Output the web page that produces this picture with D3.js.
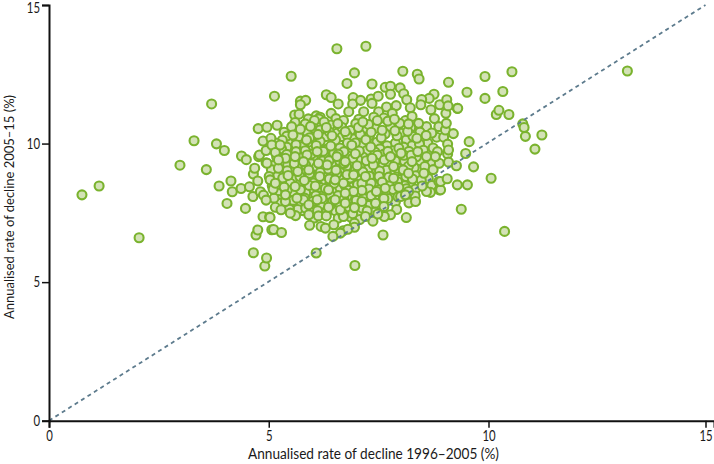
<!DOCTYPE html>
<html>
<head>
<meta charset="utf-8">
<script src="https://cdn.jsdelivr.net/npm/d3@7"></script>
<style>
  html, body { margin: 0; padding: 0; background: #fff; }
  svg { display: block; }
  text { font-family: "Lato", sans-serif; fill: #1a1a1a; }
</style>
</head>
<body>
<div id="chart"></div>
<script>
// [1996-2005 rate, 2005-15 rate]
const farLeft = [[0.75,8.15],[1.14,8.47],[2.05,6.60],[2.98,9.22],[3.30,10.10],[3.58,9.06],[3.70,11.43],[3.81,9.99],[3.87,8.47],[3.99,9.75],[4.05,7.84],[4.14,8.65],[4.17,8.26],[4.37,8.38],[4.38,9.55],[4.47,7.66],[4.49,9.42],[4.56,8.44],[4.64,8.09],[4.65,8.90],[4.65,6.06],[4.68,9.11],[4.71,6.70],[4.75,6.88],[4.75,8.65],[4.76,10.54],[4.77,9.53],[4.79,9.59],[4.81,8.26],[4.87,10.09],[4.87,7.36],[4.88,8.14],[4.91,5.58],[4.94,7.96],[4.94,9.75],[4.94,9.31],[4.95,5.87],[4.96,10.59],[4.96,9.29],[5.01,8.81],[5.02,7.35],[5.03,7.33],[5.03,8.69],[5.05,10.19],[5.07,6.89],[5.07,9.95],[5.10,8.35],[5.11,6.90],[5.13,11.71],[5.15,8.57],[5.15,7.70],[5.15,9.68],[5.19,10.66],[5.22,9.11],[5.22,9.41],[5.26,9.95],[5.28,7.61],[5.29,6.79]];

const farRight = [[9.02,10.49],[9.03,11.09],[9.04,10.73],[9.05,11.58],[9.06,8.73],[9.07,9.98],[9.07,9.62],[9.08,11.36],[9.09,12.21],[9.09,9.77],[9.09,9.33],[9.20,10.36],[9.27,9.20],[9.29,8.51],[9.29,11.27],[9.30,11.27],[9.38,7.63],[9.48,9.64],[9.51,11.85],[9.52,8.51],[9.56,10.07],[9.66,9.16],[9.92,12.42],[9.92,11.63],[10.06,8.75],[10.18,11.05],[10.24,11.20],[10.33,11.88],[10.37,6.83],[10.47,11.05],[10.54,12.59],[10.79,10.71],[10.82,10.58],[10.85,10.26],[11.07,9.80],[11.23,10.31],[13.20,12.62]];

const upperCloud = [[5.51,12.43],[6.55,13.42],[7.21,13.51],[6.95,12.55],[6.78,12.17],[7.35,12.15],[8.05,12.61],[8.38,12.50],[8.42,12.33],[7.65,12.03],[7.77,12.07],[7.99,12.01],[7.77,11.78],[8.07,11.80],[8.14,11.58],[8.76,11.78],[8.65,11.63],[8.48,11.59],[8.46,11.40],[6.31,11.76],[6.42,11.66],[6.58,11.43],[5.72,11.53],[5.84,11.56],[5.72,11.40],[5.59,11.03],[5.69,11.06],[5.60,10.76],[5.90,10.89],[6.08,11.00],[6.17,10.95],[6.14,10.89],[6.42,11.09],[6.53,10.90],[6.92,11.66],[6.91,11.43],[7.09,11.56],[7.33,11.61],[7.49,11.71],[7.35,11.45],[7.68,11.32],[7.90,11.37],[8.22,11.29],[8.89,11.40],[8.69,11.22],[8.77,10.90],[8.87,10.61],[8.59,10.61],[8.41,10.73],[8.11,10.83],[7.81,11.09],[7.50,11.15],[7.39,10.95],[7.62,10.92],[7.05,10.88],[6.82,11.15],[6.70,10.83],[7.16,11.15],[7.98,10.73],[8.26,10.98],[6.04,10.83],[6.02,10.55],[5.87,10.43],[6.29,10.25],[6.17,10.49],[6.40,10.67],[6.55,10.37],[5.35,10.41],[5.68,10.25],[6.86,10.47],[7.18,10.47],[7.43,10.55],[7.77,10.61],[8.01,10.37],[8.49,10.10],[8.82,10.23],[8.62,10.01],[8.13,10.13],[7.65,10.35],[7.31,10.07],[6.93,10.17],[6.67,10.25],[7.11,9.93],[7.46,10.05],[7.88,10.01],[8.26,9.92],[5.98,10.01],[5.45,10.01],[5.76,9.89],[6.10,9.83],[8.98,10.23]];

const lowerCloud = [[6.96,5.60],[7.60,6.70],[8.13,7.33],[8.34,7.91],[7.77,7.43],[7.63,7.37],[7.37,7.20],[6.95,7.13],[6.95,6.98],[6.69,6.85],[6.80,6.91],[6.63,6.77],[7.24,7.57],[7.20,7.37],[7.48,7.46],[6.70,7.37],[6.63,7.61],[6.95,7.69],[6.74,7.85],[7.43,7.85],[7.62,7.73],[8.00,8.09],[8.18,8.27],[7.84,8.75],[8.88,8.33],[8.68,8.24],[8.59,8.27],[8.49,8.47],[8.87,8.63],[8.88,9.29],[8.79,9.53],[8.53,8.93],[8.26,9.35],[8.01,9.65],[8.39,9.71],[8.59,9.53],[8.06,9.05],[8.18,8.93],[7.84,9.17],[7.38,9.23],[7.77,9.53],[6.97,9.63],[7.35,9.47],[6.74,9.35],[7.01,9.20],[7.20,8.81],[6.93,8.87],[6.70,8.57],[7.12,8.31],[7.65,8.39],[7.45,8.27],[7.96,8.42],[6.93,8.27],[6.74,8.21],[7.12,7.91],[8.11,8.15],[8.91,8.33],[8.91,8.63],[6.08,6.05],[5.93,7.05],[6.19,7.01],[6.29,6.95],[6.46,6.65],[5.47,7.63],[5.61,7.40],[5.49,7.49],[5.91,7.43],[6.13,7.39],[6.31,7.39],[6.48,7.07],[5.38,7.91],[5.35,8.43],[5.60,8.45],[5.44,8.85],[5.66,8.99],[5.91,9.05],[6.16,8.81],[5.81,8.67],[6.06,8.47],[6.33,9.23],[6.51,8.69],[6.36,8.33],[6.10,7.97],[5.79,7.97],[5.64,8.03],[5.38,8.15],[6.36,7.70],[5.91,7.79],[6.51,7.97],[5.60,9.53],[5.38,9.47],[5.87,9.59],[6.10,9.71],[6.55,9.53],[6.13,9.29],[5.79,9.35]];

const coreCloud = [[5.52,10.61],[5.83,10.71],[6.26,10.78],[6.66,10.59],[6.98,10.72],[7.27,10.69],[7.71,10.81],[8.23,10.58],[8.44,10.41],[8.71,10.38],[5.41,10.27],[5.93,10.21],[6.38,10.42],[6.78,10.31],[7.08,10.33],[7.29,10.29],[7.56,10.21],[7.92,10.28],[8.28,10.26],[8.58,10.29],[5.31,10.12],[5.62,9.96],[6.17,10.08],[6.46,10.04],[6.79,10.02],[7.21,10.14],[7.69,9.92],[8.07,9.87],[8.43,9.98],[8.74,9.84],[5.47,9.73],[5.74,9.69],[5.99,9.76],[6.33,9.81],[6.62,9.84],[6.88,9.79],[7.24,9.76],[7.53,9.81],[7.84,9.74],[8.19,9.72],[8.52,9.76],[8.84,9.71],[5.26,9.62],[5.52,9.44],[6.01,9.48],[6.27,9.57],[6.43,9.47],[6.79,9.56],[7.14,9.52],[7.54,9.43],[7.98,9.44],[8.15,9.51],[8.44,9.38],[8.71,9.28],[5.12,9.22],[5.43,9.24],[5.72,9.18],[5.96,9.27],[6.48,9.24],[6.61,9.13],[6.87,9.31],[7.18,9.28],[7.56,9.18],[7.73,9.31],[8.02,9.27],[8.31,9.13],[8.55,9.17],[8.74,9.06],[5.31,8.98],[5.54,9.06],[5.83,8.96],[6.07,9.04],[6.26,8.98],[6.43,8.88],[6.72,8.99],[7.02,8.94],[7.34,8.97],[7.61,8.92],[7.98,8.91],[8.34,8.84],[8.63,8.74],[5.19,8.81],[5.62,8.74],[5.96,8.81],[6.28,8.67],[6.62,8.76],[6.88,8.61],[7.08,8.68],[7.41,8.72],[7.63,8.66],[8.02,8.71],[8.23,8.59],[8.47,8.68],[8.71,8.49],[5.28,8.61],[5.49,8.57],[5.82,8.41],[6.21,8.57],[6.47,8.44],[6.89,8.43],[7.23,8.54],[7.52,8.51],[7.78,8.59],[8.09,8.48],[8.34,8.36],[5.19,8.22],[5.58,8.22],[5.97,8.28],[6.21,8.19],[6.53,8.27],[7.04,8.09],[7.28,8.21],[7.54,8.11],[7.81,8.18],[8.33,8.11],[5.23,7.98],[5.71,7.84],[5.96,8.06],[6.26,7.92],[6.63,8.03],[6.87,8.03],[7.28,7.94],[7.56,7.92],[7.88,7.88],[8.19,7.86],[5.53,7.76],[5.77,7.58],[6.04,7.68],[6.23,7.58],[6.51,7.58],[6.83,7.61],[7.06,7.53],[7.36,7.64],[7.91,7.62],[6.03,7.31],[6.58,7.31],[6.87,7.34],[7.07,7.26],[5.86,10.13],[6.52,10.13],[6.97,10.02],[7.42,9.69],[7.62,9.62],[7.03,9.42],[6.48,9.66],[5.97,9.62],[6.22,9.37],[6.61,9.38],[6.97,9.07],[7.27,9.11],[7.46,9.05],[7.68,9.04],[7.87,8.98],[8.09,9.36],[8.36,9.52],[6.77,9.18],[6.35,9.08],[6.09,9.16],[5.84,9.22],[6.55,8.92],[6.85,8.76],[7.19,8.43],[7.33,8.38],[7.66,8.24],[6.62,8.41],[6.38,8.51],[6.08,8.67],[5.72,8.59],[5.84,8.21],[6.07,8.12],[6.78,8.09],[7.02,8.52],[6.41,8.11],[7.16,8.02],[7.41,8.07],[7.71,8.02],[6.42,7.81],[6.78,7.71],[7.02,7.82],[7.27,7.77],[7.52,7.71],[6.17,7.79],[5.97,7.51]];

// second pass over the dense middle of the cloud
const denseMiddle = [[6.12,10.33],[6.44,10.28],[6.74,10.43],[7.04,10.58],[7.33,10.41],[7.58,10.48],[7.87,10.46],[8.16,10.44],[8.37,10.19],[6.08,9.93],[6.24,9.72],[6.41,9.91],[6.71,9.71],[6.89,9.94],[7.06,9.73],[7.32,9.88],[7.47,9.58],[7.71,9.72],[7.96,9.83],[8.08,9.58],[5.62,9.71],[5.83,9.74],[5.41,9.87],[5.74,9.48],[6.37,9.38],[6.58,9.62],[6.91,9.47],[7.22,9.38],[7.41,9.33],[7.63,9.41],[7.88,9.37],[8.24,9.58],[5.58,9.28],[6.18,9.22],[6.53,9.04],[6.71,9.28],[7.08,9.14],[7.52,9.01],[7.92,9.11],[8.18,9.18],[5.42,9.02],[5.93,8.92],[6.17,8.96],[6.38,8.72],[6.78,8.88],[7.14,8.98],[7.29,8.82],[7.51,8.81],[7.73,8.79],[8.12,8.81],[5.71,8.81],[6.02,8.58],[6.17,8.42],[6.49,8.57],[6.74,8.48],[7.12,8.56],[7.33,8.57],[7.58,8.61],[7.93,8.62],[8.27,8.72],[5.42,8.32],[5.72,8.33],[5.92,8.49],[6.29,8.38],[6.58,8.12],[6.81,8.32],[7.28,8.36],[7.51,8.33],[7.83,8.34],[8.13,8.37],[5.56,7.95],[5.82,8.03],[6.01,7.92],[6.21,8.02],[6.46,7.93],[6.71,7.98],[6.99,7.95],[7.33,8.12],[7.62,8.02],[7.94,8.08],[5.66,7.62],[5.84,7.67],[6.11,7.58],[6.32,7.52],[6.68,7.48],[6.91,7.47],[7.13,7.67],[7.42,7.53],[5.27,7.85],[5.12,8.03],[5.08,8.48],[5.32,8.76],[5.06,9.06],[5.18,9.52],[5.29,9.81],[5.41,9.61],[5.16,10.02],[5.55,10.31],[5.72,10.52],[5.95,10.62],[6.31,10.58],[6.57,10.72],[7.14,10.78],[7.47,10.83],[7.86,10.88],[8.18,10.71]];

const xTicks = [0, 5, 10, 15];
const yTicks = [0, 5, 10, 15];
const xTitle = 'Annualised rate of decline 1996\u20132005 (%)';
const yTitle = 'Annualised rate of decline 2005\u201315 (%)';

const width = 714;
const height = 464;

const svg = d3.select('#chart').append('svg')
  .attr('width', width)
  .attr('height', height);

// x axis runs a bit past the 15 tick, up to the edge of the figure
const x = d3.scaleLinear().domain([0, 10, 15, 15.2]).range([49, 488.5, 705.5, 714]);
const y = d3.scaleLinear().domain([0, 15]).range([420.7, 5]);

const points = [...upperCloud, ...coreCloud, ...denseMiddle, ...lowerCloud, ...farLeft, ...farRight];

svg.append('g')
  .selectAll('circle')
  .data(points)
  .enter().append('circle')
  .attr('cx', d => x(d[0]))
  .attr('cy', d => y(d[1]))
  .attr('r', 4.5)
  .attr('fill', '#d3e2b6')
  .attr('stroke', '#7ab32e')
  .attr('stroke-width', 2.1);

// line of equal rates sits on top of the points
svg.append('line')
  .attr('x1', x(0)).attr('y1', y(0))
  .attr('x2', x(15)).attr('y2', y(15))
  .attr('stroke', '#5d7b8d')
  .attr('stroke-width', 1.8)
  .attr('stroke-dasharray', '4 3.6');

const xAxis = svg.append('g')
  .attr('transform', `translate(0,${y(0)})`)
  .call(d3.axisBottom(x).tickValues(xTicks).tickSizeOuter(0).tickSize(7).tickPadding(3));

const yAxis = svg.append('g')
  .attr('transform', `translate(${x(0)},0)`)
  .call(d3.axisLeft(y).tickValues(yTicks).tickSizeOuter(0).tickSize(7).tickPadding(2));

[xAxis, yAxis].forEach(g => {
  g.select('.domain').attr('stroke', '#111').attr('stroke-width', 2);
  g.selectAll('.tick line').attr('stroke', '#111').attr('stroke-width', 1.5);
  // reference digits are tall and narrow
  g.selectAll('.tick text')
    .style('font-family', 'Lato, sans-serif')
    .style('font-size', '14.5px')
    .attr('textLength', d => String(d).length * 6.6)
    .attr('lengthAdjust', 'spacingAndGlyphs')
    .attr('fill', '#1a1a1a');
});

// keep the top label inside the picture
yAxis.selectAll('.tick text').filter(d => d === 15).attr('dy', '0.5em');

svg.append('text')
  .attr('x', 373.5)
  .attr('y', 459)
  .attr('text-anchor', 'middle')
  .attr('font-size', 14.5)
  .attr('textLength', 251)
  .attr('lengthAdjust', 'spacingAndGlyphs')
  .text(xTitle);

svg.append('text')
  .attr('transform', 'translate(14,207) rotate(-90)')
  .attr('text-anchor', 'middle')
  .attr('font-size', 14)
  .attr('textLength', 224)
  .attr('lengthAdjust', 'spacingAndGlyphs')
  .text(yTitle);
</script>
</body>
</html>
